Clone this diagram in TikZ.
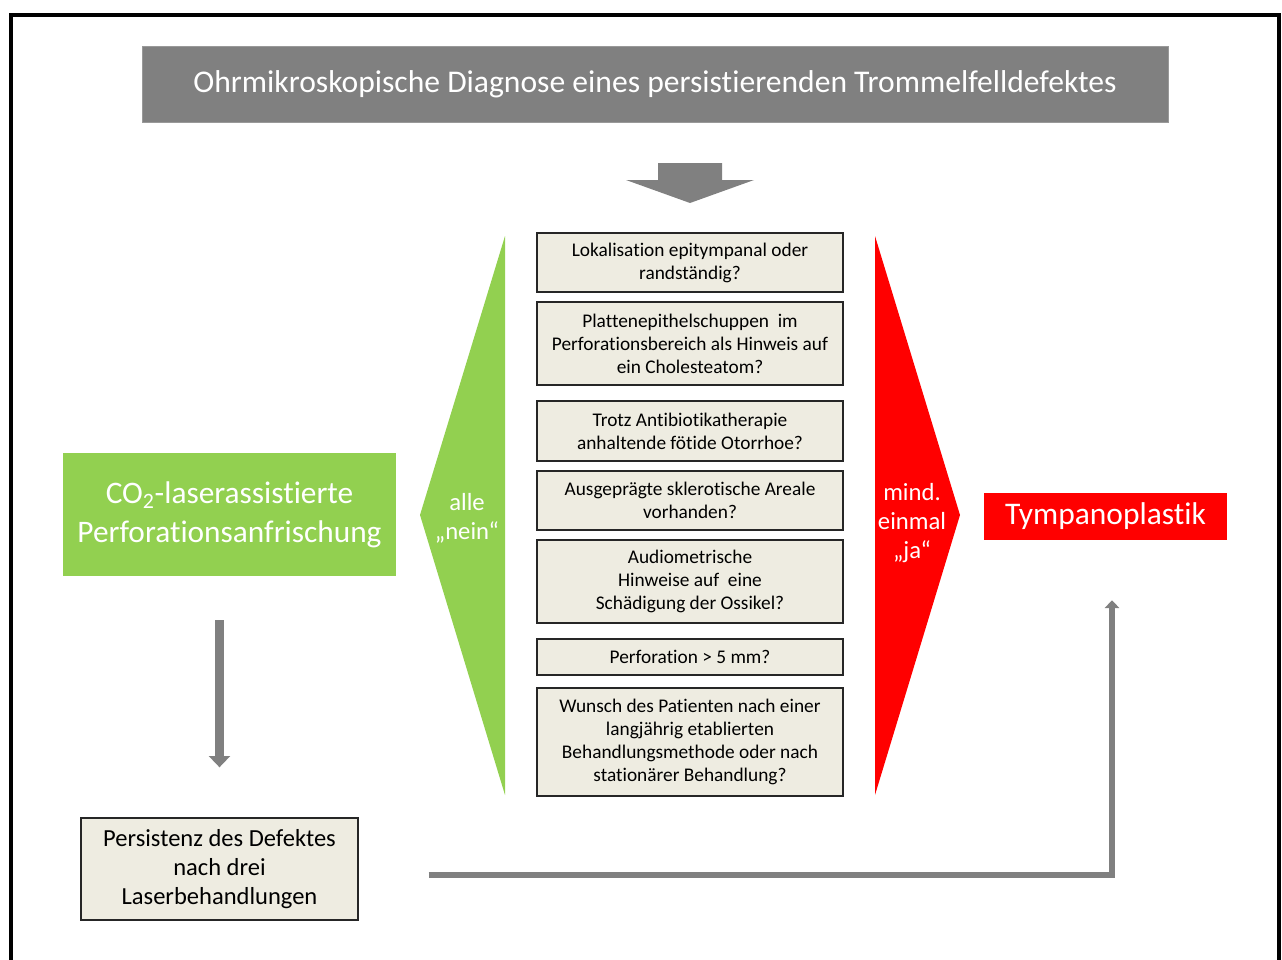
\documentclass[tikz,border=0pt]{standalone}
\usepackage{fontspec}
\setmainfont{Carlito}[Ligatures=CommonOff]
\usetikzlibrary{positioning,arrows.meta}
\definecolor{grau}{RGB}{128,128,128}
\definecolor{gruen}{RGB}{146,208,80}
\definecolor{beige}{RGB}{238,236,225}
\newcommand{\pxl}{0.75pt}
\tikzset{
  frage/.style={draw=black!85, fill=beige, line width=1pt, minimum width=306*\pxl,
    align=center, inner sep=2pt, font=\fontsize{14.5}{17.3}\selectfont},
  ziel/.style={fill=#1, text=white, align=center, inner sep=0pt},
  pfeil/.style={draw=grau, line width=#1, -{Triangle[width=2.4*#1, length=1.3*#1]}}
}
\begin{document}
\begin{tikzpicture}[x=0.75pt, y=-0.75pt]
        \useasboundingbox (0,0) rectangle (1282,960);
        % Rahmen
        \draw[line width=3pt] (11,960) -- (11,15) -- (1279,15) -- (1279,960);

        % Diagnose
        \node[ziel=grau, draw=grau!80, minimum width=1026*\pxl, minimum height=76*\pxl,
          font=\fontsize{23.7}{28}\selectfont] (diagnose) at (655,84)
          {Ohrmikroskopische Diagnose eines persistierenden Trommelfelldefektes};
        \fill[grau] (658,163) -- (722,163) -- (722,180) -- (754,180) -- (690,203)
          -- (626,180) -- (658,180) -- cycle;

        % Keile
        \fill[gruen] (505,236) -- (505,795) -- (420,515) -- cycle;
        \fill[red] (875,236) -- (875,795) -- (960,515) -- cycle;
        \node[text=white, align=center, font=\fontsize{18.5}{22}\selectfont] (nein) at (467,518)
          {alle\\„nein“};
        \node[text=white, align=center, font=\fontsize{18.5}{22}\selectfont] (ja) at (912,523)
          {mind.\\einmal\\„ja“};

        % Fragen
        \node[frage, minimum height=59*\pxl] (f1) at (690,262.5)
          {Lokalisation epitympanal oder\\randständig?};
        \node[frage, minimum height=83*\pxl] (f2) at (690,343.5)
          {Plattenepithelschuppen\ \ im\\Perforationsbereich als Hinweis auf\\ein Cholesteatom?};
        \node[frage, minimum height=60*\pxl] (f3) at (690,431)
          {Trotz Antibiotikatherapie\\anhaltende fötide Otorrhoe?};
        \node[frage, minimum height=59*\pxl] (f4) at (690,500.5)
          {Ausgeprägte sklerotische Areale\\vorhanden?};
        \node[frage, minimum height=83*\pxl] (f5) at (690,581.5)
          {Audiometrische\\Hinweise auf\ \ eine\\Schädigung der Ossikel?};
        \node[frage, minimum height=36*\pxl] (f6) at (690,657)
          {Perforation > 5 mm?};
        \node[frage, minimum height=108*\pxl] (f7) at (690,742)
          {Wunsch des Patienten nach einer\\langjährig etablierten\\Behandlungsmethode oder nach\\stationärer Behandlung?};

        % Ergebnisse
        \node[ziel=gruen, minimum width=333*\pxl, minimum height=123*\pxl,
          font=\fontsize{23.5}{29}\selectfont] (laser) at (229.5,514.5)
          {CO\textsubscript{2}-laserassistierte\\Perforationsanfrischung};
        \node[ziel=red, minimum width=243*\pxl, minimum height=47*\pxl,
          font=\fontsize{23.6}{28}\selectfont] (tympano) at (1105.5,516.5) {Tympanoplastik};
        \node[frage, minimum width=277*\pxl, minimum height=102*\pxl,
          font=\fontsize{18.4}{22}\selectfont] (persistenz) at (219.5,869)
          {Persistenz des Defektes\\nach drei\\Laserbehandlungen};

        % Pfeile
        \draw[pfeil=6.5pt, shorten <=44*\pxl, shorten >=50*\pxl] (persistenz |- laser.south)
          -- (persistenz.north);
        \coordinate (knick) at (1112,875);
        \draw[pfeil=4.5pt, shorten >=60*\pxl] (persistenz.east |- knick) ++(70,0) -- (knick)
          -- (knick |- tympano.south);
\end{tikzpicture}
\end{document}
